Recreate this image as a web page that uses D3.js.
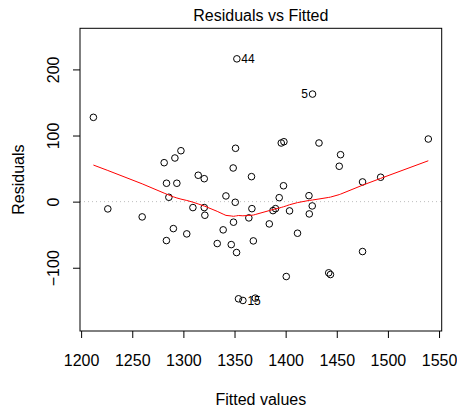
<!DOCTYPE html>
<html>
<head>
<meta charset="utf-8">
<script src="https://cdn.jsdelivr.net/npm/d3@7"></script>
<style>
  body { margin: 0; background: #fff; }
  text { font-family: "Liberation Sans", Arial, sans-serif; fill: #000; }
</style>
</head>
<body>
<div id="chart"></div>
<script>
// values
var fitted = [1212.0, 1352.3, 1281.2, 1291.7, 1297.6, 1351.0, 1348.7, 1366.6, 1314.5, 1320.4,
    1283.5, 1293.6, 1426.3, 1395.7, 1398.3, 1432.6, 1453.7, 1452.4, 1539.5, 1397.9,
    1475.2, 1492.9, 1226.1, 1259.7, 1285.8, 1309.3, 1320.4, 1321.0, 1341.6, 1350.7,
    1367.0, 1349.0, 1364.0, 1290.2, 1283.4, 1303.3, 1338.9, 1333.1, 1346.8, 1352.0,
    1368.4, 1353.9, 1358.2, 1370.3, 1393.7, 1387.6, 1390.1, 1403.8, 1422.8, 1426.0,
    1423.1, 1384.0, 1411.6, 1475.2, 1400.6, 1442.1, 1443.8];
var residuals = [127.5, 216.0, 58.9, 66.0, 77.0, 80.7, 50.9, 37.8, 39.9, 34.7,
    27.8, 27.8, 162.7, 88.7, 90.6, 88.7, 71.0, 53.5, 94.7, 24.0,
    29.8, 36.9, -11.0, -23.1, 6.6, -9.0, -9.0, -20.6, 8.6, -1.0,
    -10.6, -31.1, -24.6, -40.8, -58.9, -48.8, -42.7, -63.4, -65.0, -77.0,
    -59.4, -147.0, -149.5, -146.0, 6.0, -13.6, -10.6, -14.0, 9.0, -6.5,
    -18.6, -33.7, -47.8, -75.5, -113.3, -107.7, -110.3];
// labelled points: index into the arrays above, label text, side
var idLabels = ["44", "5", "15"];
var idIndex = [1, 12, 42];
var idSide = ["right", "left", "right"];

var xTicks = [1200, 1250, 1300, 1350, 1400, 1450, 1500, 1550];
var yTicks = [-100, 0, 100, 200];

var W = 457, H = 406;
var plotL = 80, plotR = 441.7, plotT = 28.3, plotB = 331;

var svg = d3.select("#chart").append("svg")
    .attr("width", W)
    .attr("height", H);

// R style axis range: 4% padding, residuals first widened by 8% for labels
function extendRange(ext, f) {
    var d = (ext[1] - ext[0]) * f;
    return [ext[0] - d, ext[1] + d];
}
var xDom = extendRange(d3.extent(fitted), 0.04);
var yDom = extendRange(extendRange(d3.extent(residuals), 0.08), 0.04);

var x = d3.scaleLinear().domain(xDom).range([plotL, plotR]);
var y = d3.scaleLinear().domain(yDom).range([plotB, plotT]);

// zero line
svg.append("line")
    .attr("x1", plotL).attr("x2", plotR)
    .attr("y1", y(0)).attr("y2", y(0))
    .attr("stroke", "#bebebe")
    .attr("stroke-dasharray", "1,3");

// points
svg.append("g").selectAll("circle")
    .data(fitted)
    .enter().append("circle")
    .attr("cx", function (d) { return x(d); })
    .attr("cy", function (d, i) { return y(residuals[i]); })
    .attr("r", 3.3)
    .attr("fill", "none")
    .attr("stroke", "#000")
    .attr("stroke-width", 1);

// lowess smooth, same as R's lowess(f = 2/3, iter = 3)
function lowess(xs, ys, f, iterations) {
    var order = d3.range(xs.length).sort(function (a, b) { return xs[a] - xs[b]; });
    var X = order.map(function (i) { return xs[i]; });
    var Y = order.map(function (i) { return ys[i]; });
    var n = X.length;
    var delta = 0.01 * (X[n - 1] - X[0]);
    var ns = Math.max(2, Math.min(n, Math.floor(f * n + 1e-7)));
    var out = new Array(n).fill(0), res = new Array(n).fill(0), rw = new Array(n).fill(1);
    var w = new Array(n).fill(0);

    function lowest(xsv, nleft, nright, userw) {
        var range = X[n - 1] - X[0];
        var h = Math.max(xsv - X[nleft], X[nright] - xsv);
        var h9 = 0.999 * h, h1 = 0.001 * h;
        var a = 0, j = nleft;
        while (j < n) {
            w[j] = 0;
            var r = Math.abs(X[j] - xsv);
            if (r <= h9) {
                if (r <= h1) w[j] = 1;
                else w[j] = Math.pow(1 - Math.pow(r / h, 3), 3);
                if (userw) w[j] *= rw[j];
                a += w[j];
            } else if (X[j] > xsv) break;
            j++;
        }
        var nrt = j - 1;
        if (a <= 0) return null;
        for (j = nleft; j <= nrt; j++) w[j] /= a;
        if (h > 0) {
            a = 0;
            for (j = nleft; j <= nrt; j++) a += w[j] * X[j];
            var b = xsv - a, c = 0;
            for (j = nleft; j <= nrt; j++) c += w[j] * (X[j] - a) * (X[j] - a);
            if (Math.sqrt(c) > 0.001 * range) {
                b /= c;
                for (j = nleft; j <= nrt; j++) w[j] *= (b * (X[j] - a) + 1);
            }
        }
        var s = 0;
        for (j = nleft; j <= nrt; j++) s += w[j] * Y[j];
        return s;
    }

    for (var iter = 1; iter <= iterations + 1; iter++) {
        var nleft = 0, nright = ns - 1, last = -1, i = 0;
        for (;;) {
            if (nright < n - 1) {
                var d1 = X[i] - X[nleft], d2 = X[nright + 1] - X[i];
                if (d1 > d2) { nleft++; nright++; continue; }
            }
            var v = lowest(X[i], nleft, nright, iter > 1);
            out[i] = v === null ? Y[i] : v;
            if (last < i - 1) {
                var denom = X[i] - X[last];
                for (var j = last + 1; j < i; j++) {
                    var alpha = (X[j] - X[last]) / denom;
                    out[j] = alpha * out[i] + (1 - alpha) * out[last];
                }
            }
            last = i;
            var cut = X[last] + delta;
            for (i = last + 1; i < n; i++) {
                if (X[i] > cut) break;
                if (X[i] === X[last]) { out[i] = out[last]; last = i; }
            }
            i = Math.max(last + 1, i - 1);
            if (last >= n - 1) break;
        }
        for (i = 0; i < n; i++) res[i] = Y[i] - out[i];
        var sc = d3.sum(res, Math.abs) / n;
        if (iter > iterations) break;
        var sorted = res.map(Math.abs).sort(d3.ascending);
        var m1 = Math.floor(n / 2), cmad;
        if (n % 2 === 0) cmad = 3 * (sorted[m1] + sorted[n - m1 - 1]);
        else cmad = 6 * sorted[m1];
        if (cmad < 1e-7 * sc) break;
        var c9 = 0.999 * cmad, c1 = 0.001 * cmad;
        for (i = 0; i < n; i++) {
            var r = Math.abs(res[i]);
            if (r <= c1) rw[i] = 1;
            else if (r <= c9) rw[i] = Math.pow(1 - Math.pow(r / cmad, 2), 2);
            else rw[i] = 0;
        }
    }
    return X.map(function (xv, k) { return [xv, out[k]]; });
}

var smooth = lowess(fitted, residuals, 2 / 3, 3);
svg.append("path")
    .datum(smooth)
    .attr("fill", "none")
    .attr("stroke", "red")
    .attr("stroke-width", 1)
    .attr("d", d3.line()
        .x(function (d) { return x(d[0]); })
        .y(function (d) { return y(d[1]); }));

// labels of the extreme points
svg.append("g").selectAll("text")
    .data(idLabels)
    .enter().append("text")
    .attr("x", function (d, i) {
        var px = x(fitted[idIndex[i]]);
        return idSide[i] === "right" ? px + 4.5 : px - 4.5;
    })
    .attr("y", function (d, i) { return y(residuals[idIndex[i]]); })
    .attr("dy", "0.35em")
    .attr("text-anchor", function (d, i) { return idSide[i] === "right" ? "start" : "end"; })
    .attr("font-size", 12)
    .text(function (d) { return d; });

// box
svg.append("rect")
    .attr("x", plotL).attr("y", plotT)
    .attr("width", plotR - plotL).attr("height", plotB - plotT)
    .attr("fill", "none")
    .attr("stroke", "#000")
    .attr("stroke-width", 1);

// axes
var xAxis = svg.append("g")
    .attr("transform", "translate(0," + plotB + ")")
    .call(d3.axisBottom(x).tickValues(xTicks).tickSize(7).tickPadding(17).tickFormat(d3.format("d")));
var yAxis = svg.append("g")
    .attr("transform", "translate(" + plotL + ",0)")
    .call(d3.axisLeft(y).tickValues(yTicks).tickSize(7).tickFormat(function (d) { return d < 0 ? "\u2212" + Math.abs(d) : d; }));
[xAxis, yAxis].forEach(function (g) {
    g.select(".domain").remove();
    g.selectAll("line").attr("stroke", "#000");
    g.selectAll("text").attr("font-size", 16).attr("font-family", "Liberation Sans, Arial, sans-serif").attr("fill", "#000");
});
yAxis.selectAll("text")
    .attr("x", null).attr("dy", null)
    .attr("text-anchor", "middle")
    .attr("transform", "translate(-27,0) rotate(-90)")
    .attr("dominant-baseline", "central");

// titles
svg.append("text")
    .attr("x", (plotL + plotR) / 2)
    .attr("y", 15)
    .attr("text-anchor", "middle")
    .attr("dominant-baseline", "central")
    .attr("font-size", 16)
    .text("Residuals vs Fitted");

svg.append("text")
    .attr("x", (plotL + plotR) / 2)
    .attr("y", 399)
    .attr("text-anchor", "middle")
    .attr("dominant-baseline", "central")
    .attr("font-size", 16)
    .text("Fitted values");

svg.append("text")
    .attr("transform", "translate(18," + (plotT + plotB) / 2 + ") rotate(-90)")
    .attr("text-anchor", "middle")
    .attr("dominant-baseline", "central")
    .attr("font-size", 16)
    .text("Residuals");
</script>
</body>
</html>
